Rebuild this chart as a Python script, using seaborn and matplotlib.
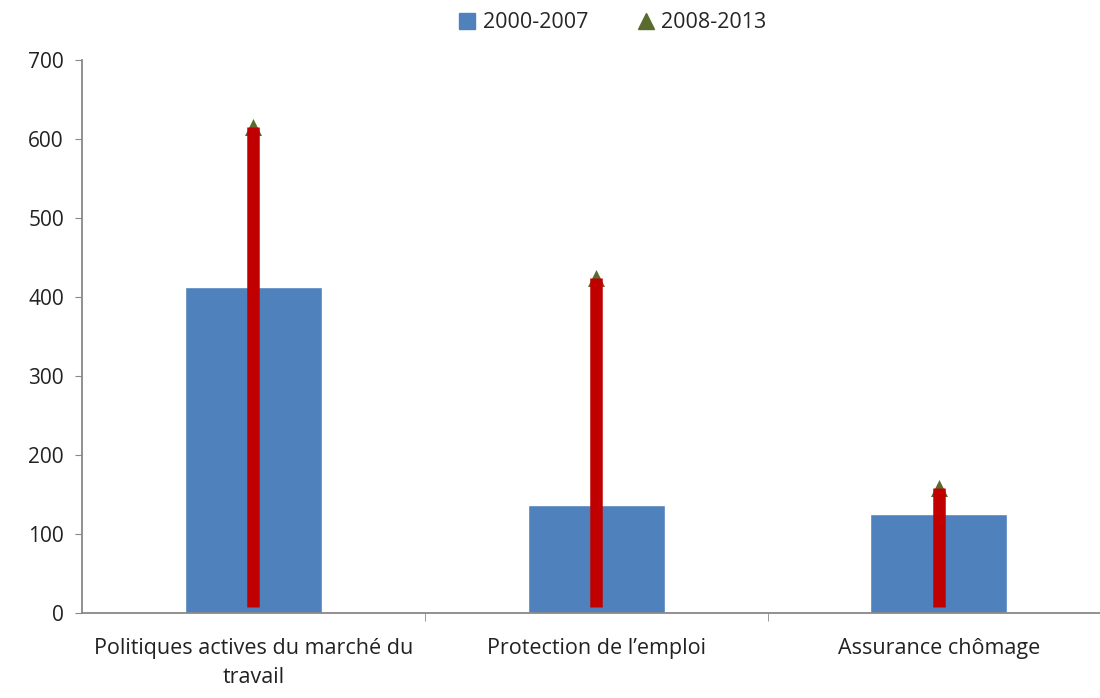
import seaborn as sns
import numpy as np
import pandas as pd
import matplotlib.pyplot as plt
from matplotlib.lines import Line2D

sns.set_style("white")
plt.rcParams['font.family'] = ['Open Sans', 'DejaVu Sans']

categories = ["Politiques actives du marché du\ntravail", "Protection de l’emploi", "Assurance chômage"]
vals_2000_2007 = [412, 137, 125]
vals_2008_2013 = [615, 424, 158]
arrow_start = [8, 8, 8]

df = pd.DataFrame({'cat': categories, 'v1': vals_2000_2007, 'v2': vals_2008_2013})

fig = plt.figure(figsize=(11, 6.98), dpi=100)
ax = fig.add_axes([0.0745, 0.122, 0.9255, 0.792])

sns.barplot(data=df, x='cat', y='v1', color='#4F81BD', saturation=1, width=0.4, ax=ax)
xs = np.arange(len(categories))
ax.vlines(xs, arrow_start, vals_2008_2013, color='#C00000', linewidth=9, zorder=3)
ax.scatter(xs, vals_2008_2013, marker='^', s=150, color='#5B6B2E', zorder=2, linewidths=0)

ax.set_xlim(-0.5, 2.47)
ax.set_ylim(0, 700)
ax.set_yticks(range(0, 701, 100))
ax.set_xlabel('')
ax.set_ylabel('')
ax.tick_params(axis='y', labelsize=15, length=5, color='#888888', direction='out', left=True, pad=8)
ax.tick_params(axis='x', labelsize=15.5, length=0, pad=18)
ax.set_xticks([0.5, 1.5], minor=True)
ax.tick_params(axis='x', which='minor', length=6, color='#888888', direction='out', bottom=True)
for s in ['top', 'right']:
    ax.spines[s].set_visible(False)
for s in ['left', 'bottom']:
    ax.spines[s].set_color('#888888')
    ax.spines[s].set_linewidth(1.3)
for lab in ax.get_xticklabels():
    lab.set_color('#222222')
    lab.set_linespacing(1.5)
for lab in ax.get_yticklabels():
    lab.set_color('#222222')

handles = [
    Line2D([], [], marker='s', linestyle='', color='#4F81BD', markersize=12),
    Line2D([], [], marker='^', linestyle='', color='#5B6B2E', markersize=12),
]
fig.legend(handles, ['2000-2007', '2008-2013'], loc='upper center', bbox_to_anchor=(0.556, 1.01),
           ncol=2, frameon=False, fontsize=15.5, handlelength=1.0, handletextpad=0.2,
           columnspacing=2.2)

fig.savefig('out.png', dpi=100)
